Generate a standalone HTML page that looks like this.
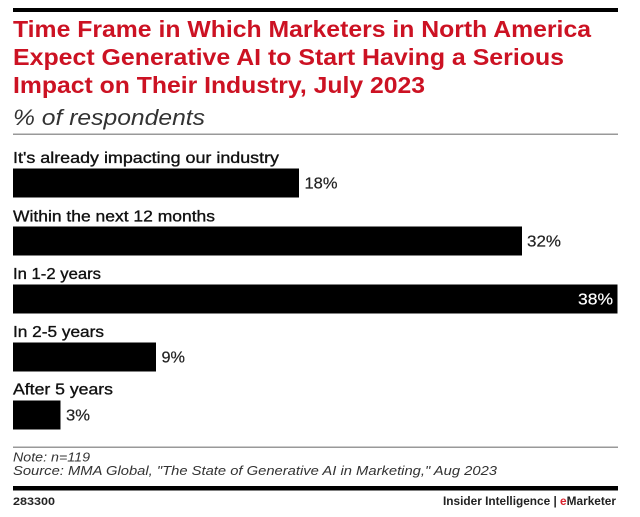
<!DOCTYPE html>
<html>
<head>
<meta charset="utf-8">
<style>
  html,body{margin:0;padding:0;background:#fff;}
  svg{display:block;}
  text{font-family:"Liberation Sans",Arial,sans-serif;}
</style>
</head>
<body>
<svg width="640" height="517" viewBox="0 0 640 517" xmlns="http://www.w3.org/2000/svg">
  <rect x="0" y="0" width="640" height="517" fill="#fff"/>
  <!-- top rule -->
  <rect x="13" y="8" width="605" height="4" fill="#000"/>
  <!-- title -->
  <g fill="#cc1223" font-weight="bold" font-size="23">
    <text x="13" y="37" textLength="578" lengthAdjust="spacingAndGlyphs">Time Frame in Which Marketers in North America</text>
    <text x="13" y="65" textLength="551" lengthAdjust="spacingAndGlyphs">Expect Generative AI to Start Having a Serious</text>
    <text x="13" y="93" textLength="412" lengthAdjust="spacingAndGlyphs">Impact on Their Industry, July 2023</text>
  </g>
  <text x="13" y="125" font-size="22" font-style="italic" fill="#333" textLength="192" lengthAdjust="spacingAndGlyphs">% of respondents</text>
  <rect x="13" y="133.5" width="605" height="1.5" fill="#999"/>

  <!-- labels -->
  <g fill="#111" font-size="16" stroke="#111" stroke-width="0.35">
    <text x="13" y="163" textLength="266" lengthAdjust="spacingAndGlyphs">It's already impacting our industry</text>
    <text x="13" y="221.5" textLength="202" lengthAdjust="spacingAndGlyphs">Within the next 12 months</text>
    <text x="13" y="279" textLength="88" lengthAdjust="spacingAndGlyphs">In 1-2 years</text>
    <text x="13" y="337" textLength="91" lengthAdjust="spacingAndGlyphs">In 2-5 years</text>
    <text x="13" y="394.5" textLength="100" lengthAdjust="spacingAndGlyphs">After 5 years</text>
  </g>

  <!-- bars -->
  <g fill="#000">
    <rect x="13" y="168.5" width="286" height="29"/>
    <rect x="13" y="226.5" width="509" height="29"/>
    <rect x="13" y="284.5" width="604.5" height="29"/>
    <rect x="13" y="342.5" width="143" height="29"/>
    <rect x="13" y="400.5" width="47.5" height="29"/>
  </g>

  <!-- values -->
  <g font-size="16" fill="#222" stroke="#222" stroke-width="0.2">
    <text x="304.5" y="188.5" textLength="33" lengthAdjust="spacingAndGlyphs">18%</text>
    <text x="527" y="246.5" textLength="34" lengthAdjust="spacingAndGlyphs">32%</text>
    <text x="578" y="304.5" textLength="35" lengthAdjust="spacingAndGlyphs" fill="#fff" stroke="#fff">38%</text>
    <text x="161.5" y="362.5" textLength="23.5" lengthAdjust="spacingAndGlyphs">9%</text>
    <text x="66" y="420.5" textLength="24" lengthAdjust="spacingAndGlyphs">3%</text>
  </g>

  <!-- footer -->
  <rect x="13" y="446.5" width="605" height="1.5" fill="#999"/>
  <g font-size="13" font-style="italic" fill="#333">
    <text x="13" y="461.5" textLength="77" lengthAdjust="spacingAndGlyphs">Note: n=119</text>
    <text x="13" y="475" textLength="484" lengthAdjust="spacingAndGlyphs">Source: MMA Global, "The State of Generative AI in Marketing," Aug 2023</text>
  </g>
  <rect x="13" y="486" width="605" height="4.5" fill="#000"/>
  <text x="13" y="505" font-size="11" font-weight="bold" fill="#222" textLength="42" lengthAdjust="spacingAndGlyphs">283300</text>
  <text x="443" y="505" font-size="11.5" font-weight="bold" fill="#222" textLength="173" lengthAdjust="spacingAndGlyphs">Insider Intelligence | <tspan fill="#d9232e">e</tspan>Marketer</text>
</svg>
</body>
</html>
